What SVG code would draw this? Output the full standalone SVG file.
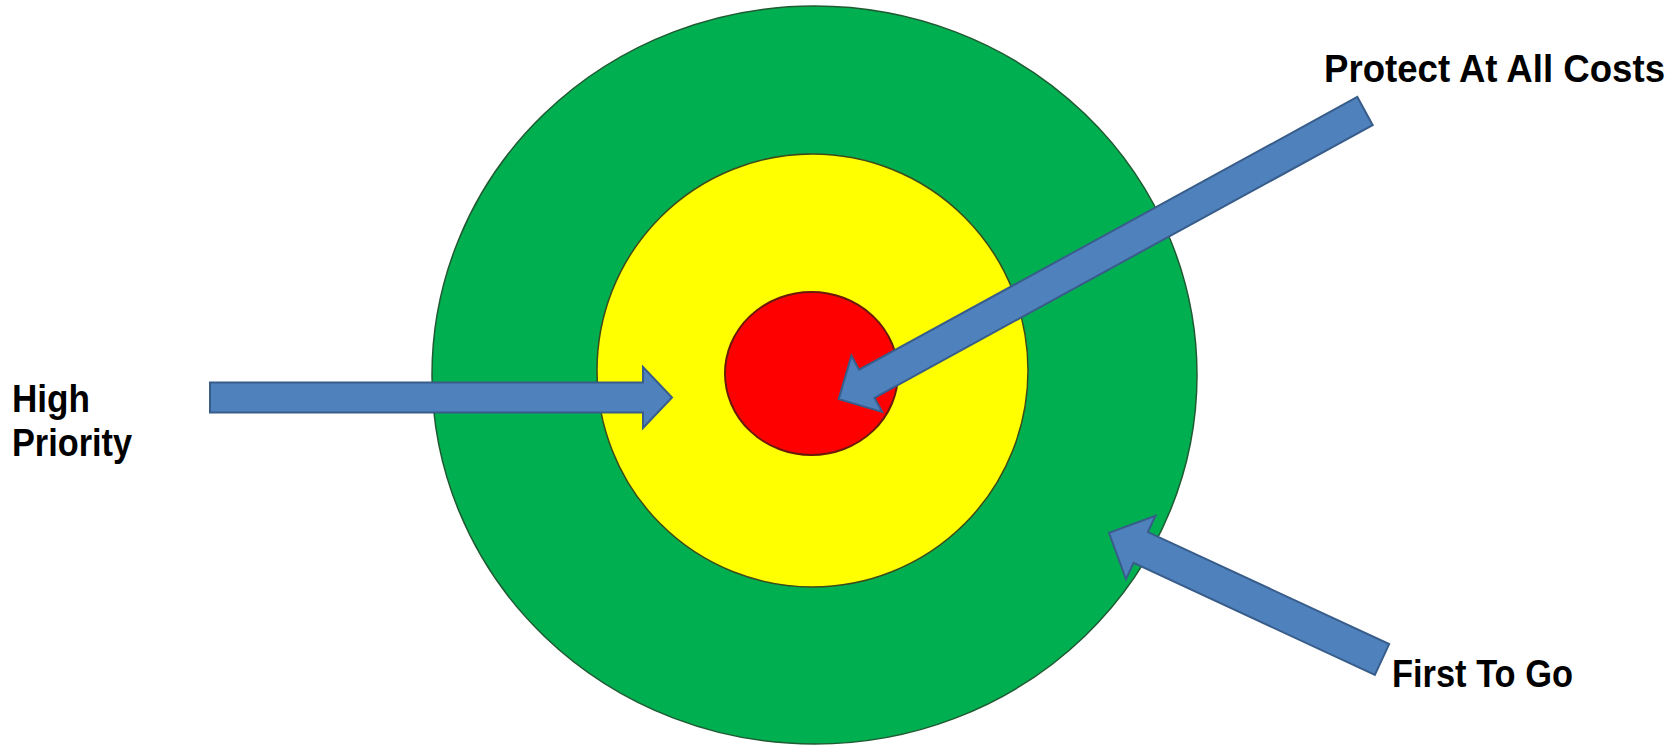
<svg xmlns="http://www.w3.org/2000/svg" width="1679" height="747" viewBox="0 0 1679 747">
<style>
.lbl{font-family:"Liberation Sans",Arial,sans-serif;font-weight:bold;font-size:38px;fill:#000}
.arrow{fill:#4F81BD;stroke:#385D8A;stroke-width:2;stroke-linejoin:miter}
</style>
<rect width="1679" height="747" fill="#fff"/>
<g id="ring-outer"><ellipse cx="814.5" cy="375" rx="382.5" ry="369" fill="#00B050" stroke="#1f5a32" stroke-width="1.5"/></g>
<g id="ring-middle"><ellipse cx="812.5" cy="370.5" rx="215.5" ry="216.5" fill="#FFFF00" stroke="#3d4a1a" stroke-width="1.5"/></g>
<g id="ring-inner"><ellipse cx="811.5" cy="373.5" rx="86.5" ry="81.5" fill="#FF0000" stroke="#6b1a0a" stroke-width="2"/></g>
<g id="connectors">
<polygon class="arrow" points="210,382.5 643,382.5 643,367 672,397.5 643,428 643,412.5 210,412.5"/>
<polygon class="arrow" transform="translate(1365,111) rotate(151.3)" points="0,-16 568,-16 568,-32 600,0 568,32 568,16 0,16"/>
<polygon class="arrow" transform="translate(1382,659.5) rotate(204.9)" points="0,-17 266,-17 266,-35 301,0 266,35 266,17 0,17"/>
</g>
<g id="label-high-priority">
<text class="lbl" x="12" y="412" textLength="78" lengthAdjust="spacingAndGlyphs">High</text>
<text class="lbl" x="12" y="456" textLength="120" lengthAdjust="spacingAndGlyphs">Priority</text>
</g>
<g id="label-protect"><text class="lbl" x="1324" y="82" textLength="341" lengthAdjust="spacingAndGlyphs">Protect At All Costs</text></g>
<g id="label-first"><text class="lbl" x="1392" y="687" textLength="181" lengthAdjust="spacingAndGlyphs">First To Go</text></g>
</svg>
